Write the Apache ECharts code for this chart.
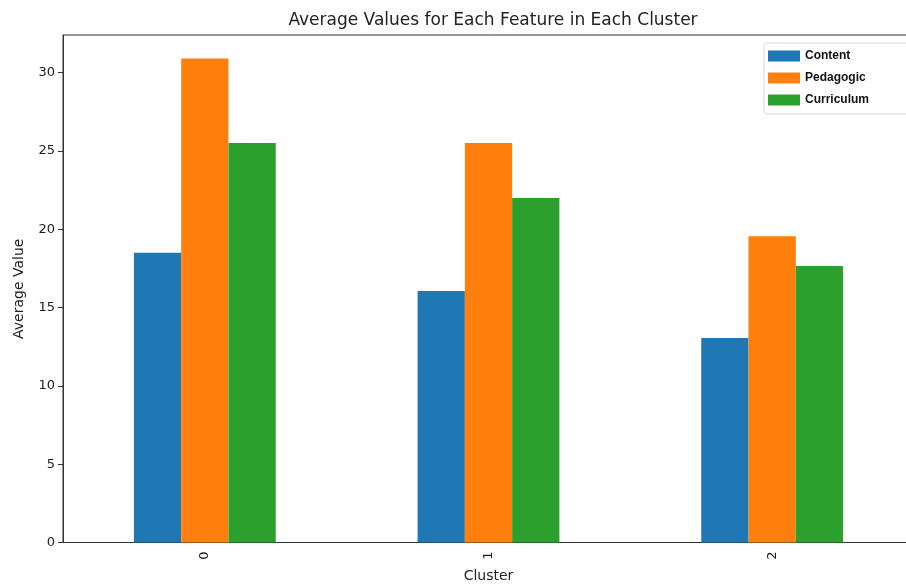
<!DOCTYPE html>
<html>
<head>
<meta charset="utf-8">
<script src="https://cdn.jsdelivr.net/npm/echarts@6/dist/echarts.min.js"></script>
<style>html,body{margin:0;padding:0;background:#fff;overflow:hidden}#c{width:914px;height:584px}</style>
</head>
<body>
<div id="c"></div>
<script>
const categories = ['0', '1', '2'];
const seriesNames = ['Content', 'Pedagogic', 'Curriculum'];
const content = [18.5, 16.06, 13.05];
const pedagogic = [30.9, 25.5, 19.55];
const curriculum = [25.5, 22.0, 17.65];
const colors = ['#1f77b4', '#ff7f0e', '#2ca02c'];
const values = [content, pedagogic, curriculum];

const chart = echarts.init(document.getElementById('c'));
const font = 'DejaVu Sans';
chart.setOption({
  animation: false,
  title: {
    text: 'Average Values for Each Feature in Each Cluster',
    left: 488, top: 7, textAlign: 'center',
    textStyle: { fontFamily: font, fontSize: 17, fontWeight: 'normal', color: '#222' }
  },
  legend: {
    orient: 'vertical', left: 764, top: 43,
    padding: [7, 40, 8, 4],
    itemWidth: 32, itemHeight: 11, itemGap: 10,
    backgroundColor: '#fff', borderColor: '#d6d6d6', borderWidth: 1, borderRadius: 3,
    icon: 'rect',
    textStyle: { fontFamily: 'Liberation Sans', fontWeight: 'bold', fontSize: 12, color: '#111' },
    data: seriesNames
  },
  grid: { left: 63, top: 35, width: 851, height: 507.5, outerBoundsMode: 'none', containLabel: false, show: true, borderColor: '#333', borderWidth: 1, backgroundColor: 'transparent' },
  xAxis: {
    type: 'category', data: categories,
    name: 'Cluster', nameLocation: 'middle', nameGap: 27,
    nameTextStyle: { fontFamily: font, fontSize: 14, color: '#222' },
    axisLine: { lineStyle: { color: '#333' } },
    axisTick: { alignWithLabel: true, length: 5, lineStyle: { color: '#333' } },
    axisLabel: { rotate: 90, fontFamily: font, fontSize: 13, color: '#222', margin: 9 }
  },
  yAxis: {
    type: 'value', min: 0, max: 32.4, interval: 5,
    name: 'Average Value', nameLocation: 'middle', nameGap: 37,
    nameTextStyle: { fontFamily: font, fontSize: 14, color: '#222' },
    axisLine: { show: true, lineStyle: { color: '#333' } },
    axisTick: { show: true, length: 5, lineStyle: { color: '#333' } },
    splitLine: { show: false },
    axisLabel: { fontFamily: font, fontSize: 13, color: '#222', margin: 8, showMaxLabel: false }
  },
  series: seriesNames.map((n, i) => ({
    name: n, type: 'bar', data: values[i],
    itemStyle: { color: colors[i] },
    barGap: '0%', barCategoryGap: '50%'
  }))
});
</script>
</body>
</html>
